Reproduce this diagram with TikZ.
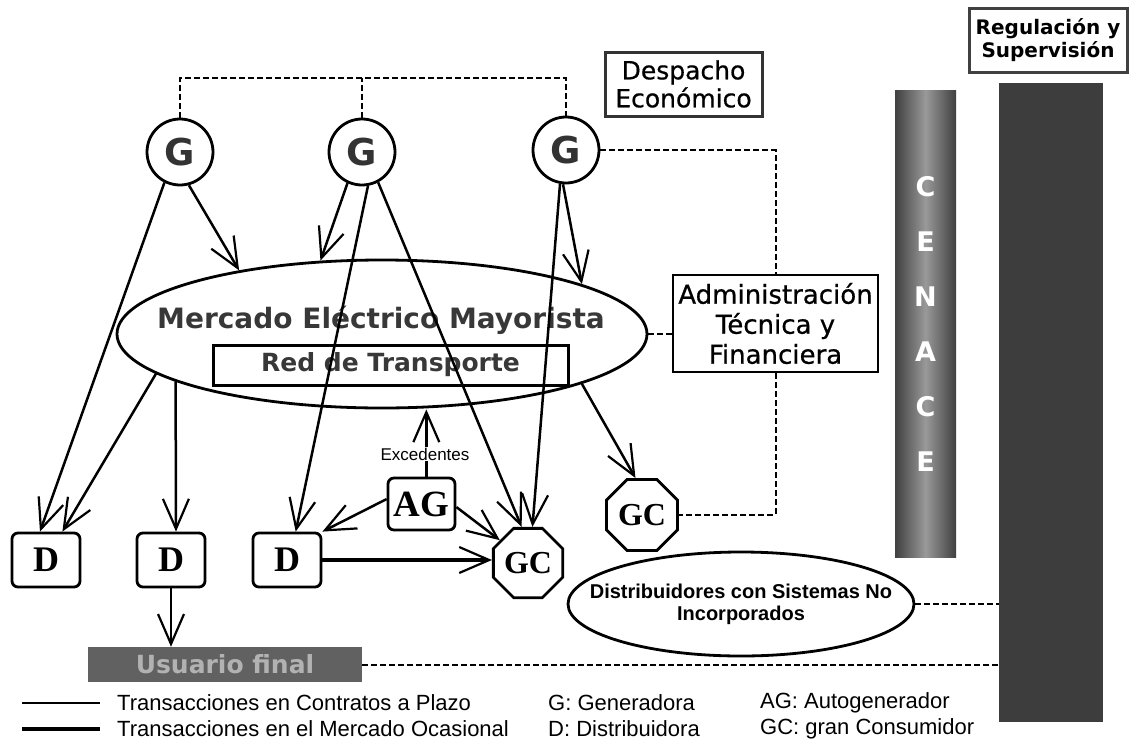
\documentclass[tikz,border=0pt]{standalone}
\usepackage{fontspec}
\usetikzlibrary{arrows.meta,shapes.geometric,calc}
\newfontfamily\dvs{DejaVu Sans}
\newfontface\dvsthick{DejaVu Sans}[FakeBold=0.6]
\newfontfamily\lsans{Liberation Sans}
\newfontfamily\lserif{Liberation Serif}
\begin{document}
\begin{tikzpicture}[x=1pt,y=-1pt,
  barb/.style={-{Straight Barb[length=30pt,width=26pt,line width=2.2pt]}},
  arr/.style={line width=2.5pt,barb},
  thk/.style={line width=3.4pt,barb},
  dsh/.style={line width=2pt,dash pattern=on 6pt off 3pt},
  gen/.style={circle,draw,line width=2.8pt,minimum size=66pt,inner sep=0pt,
    font=\dvs\bfseries\fontsize{37}{37}\selectfont,text=black!80},
  dbox/.style={rectangle,rounded corners=6pt,draw,line width=2.8pt,minimum width=68pt,
    minimum height=54pt,inner sep=0pt,font=\lserif\bfseries\fontsize{36}{36}\selectfont},
  gcbox/.style={regular polygon,regular polygon sides=8,draw,line width=2.8pt,inner sep=0pt,
    font=\lserif\bfseries\fontsize{32}{32}\selectfont},
  lbox/.style={rectangle,draw,line width=2.8pt,inner sep=0pt,align=center},
  legtext/.style={anchor=west,inner sep=0pt,font=\lsans\fontsize{22}{22}\selectfont},
  cen/.style={text=white,font=\dvs\bfseries\fontsize{27}{27}\selectfont}
]
\useasboundingbox (0,0) rectangle (1130,742);

% right bars
\node[rectangle,minimum width=61pt,minimum height=467pt,inner sep=0pt,
  left color=black!75,right color=black!75,middle color=black!40] (cenace) at (925.5,323.5) {};
\foreach \l/\yy [count=\i] in {C/187,E/242,N/297,A/352,C/407,E/462}
  \node[cen] (cl\i) at (925.5,\yy) {\l};
\node[rectangle,fill=black!76,minimum width=104pt,minimum height=639pt,inner sep=0pt] (bar) at (1051,402.5) {};
\node[lbox,draw=black!75,line width=3pt,minimum width=158pt,minimum height=64pt,
  font=\dvs\bfseries\fontsize{20}{23}\selectfont] (reg) at (1048,40) {Regulación y\\Supervisión};

% top boxes
\node[lbox,draw=black!80,line width=3pt,minimum width=157pt,minimum height=64pt,
  font=\dvsthick\fontsize{25}{28}\selectfont] (desp) at (683.5,84) {Despacho\\Económico};
\node[lbox,minimum width=205pt,minimum height=97pt,
  font=\dvsthick\fontsize{26}{30}\selectfont] (adm) at (775.5,323.5) {Administración\\Técnica y\\Financiera};

% generators
\node[gen] (G1) at (180,152) {G};
\node[gen] (G2) at (362,152) {G};
\node[gen] (G3) at (566,150) {G};

% market ellipse
\node[ellipse,draw,line width=2.8pt,minimum width=530pt,minimum height=148pt,inner sep=0pt] (merc) at (382,334) {};
\node[font=\dvs\bfseries\fontsize{28}{28}\selectfont,text=black!78] (merct) at (381,320) {Mercado Eléctrico Mayorista};
\node[rectangle,draw,line width=3pt,minimum width=355pt,minimum height=40pt,inner sep=0pt,
  font=\dvs\bfseries\fontsize{25}{25}\selectfont,text=black!78] (red) at (390.5,365) {Red de Transporte};

% lower nodes
\node[dbox] (D1) at (46,560) {D};
\node[dbox] (D2) at (171,560) {D};
\node[dbox] (D3) at (287,560) {D};
\node[dbox,minimum width=67pt,minimum height=52pt,font=\lserif\bfseries\fontsize{37}{37}\selectfont] (AG) at (421.5,504) {AG};
\node[gcbox,minimum size=75pt] (GC1) at (528,563) {GC};
\node[gcbox,minimum size=77pt] (GC2) at (642,515) {GC};
\node[rectangle,fill=black!62,minimum width=274pt,minimum height=35pt,inner sep=0pt,
  text=black!30,font=\dvs\bfseries\fontsize{25}{25}\selectfont] (usr) at (225,664.5) {Usuario final};
\node[ellipse,draw,line width=2.8pt,minimum width=346pt,minimum height=104pt,inner sep=0pt] (dist) at (741,604) {};
\node[align=center,inner sep=0pt,font=\lsans\bfseries\fontsize{20}{22}\selectfont] (distt) at (741,604)
  {Distribuidores con Sistemas No\\Incorporados};

% dashed coordination lines
\coordinate (top) at (0,78);
\draw[dsh] (G1.north) -- (G1.north |- top) -- (G3.north |- top) -- (G3.north);
\draw[dsh] (G2.north) -- (G2.north |- top);
\draw[dsh] (G3.east) -| (adm.north);
\draw[dsh] (merc.east) -- (merc.east -| adm.west);
\draw[dsh] (adm.south) |- (GC2.east);
\draw[dsh] (dist.east) -- (dist.east -| bar.west);
\draw[dsh] (usr.east) -- (usr.east -| bar.west);

% transactions
\draw[arr] (G1.-117) -- (D1.102);
\draw[arr] (G1.-75) -- (merc.156);
\draw[arr] (merc.190) -- (D1.60);
\draw[arr] (merc.193) -- (D2.80);
\draw[arr] (G2.-115) -- (merc.130);
\draw[arr] (G2.-80) -- (D3.73);
\draw[arr] (G2.-62) -- (GC1.100);
\draw[arr] (G3.-95) -- (merc.14);
\draw[arr] (G3.-100) -- (GC1.83);
\draw[arr] (merc.-14) -- (GC2.100);
\draw[arr] (AG.80) -- (AG.80 |- merc.south);
\node[fill=white,inner sep=1pt,font=\lsans\fontsize{17}{17}\selectfont] (exc) at (425,454) {Excedentes};
\draw[arr] (AG.172) -- (D3.north east);
\draw[arr] (AG.-5) -- (GC1.141);
\draw[thk] (D3.east) -- (D3.east -| GC1.west);
\draw[arr] (D2.south) -- (D2.south |- usr.north);

% legend
\coordinate (l1a) at (22,703); \coordinate (l1b) at (100,703);
\coordinate (l2a) at (22,729); \coordinate (l2b) at (100,729);
\draw[line width=1.8pt] (l1a) -- (l1b);
\draw[line width=3.6pt] (l2a) -- (l2b);
\node[legtext] (lt1) at (117,703) {Transacciones en Contratos a Plazo};
\node[legtext] (lt2) at (117,729) {Transacciones en el Mercado Ocasional};
\node[legtext] (lt3) at (548,703) {G: Generadora};
\node[legtext] (lt4) at (548,729) {D: Distribuidora};
\node[legtext] (lt5) at (760,703) {AG: Autogenerador};
\node[legtext] (lt6) at (760,729) {GC: gran Consumidor};
\end{tikzpicture}
\end{document}
